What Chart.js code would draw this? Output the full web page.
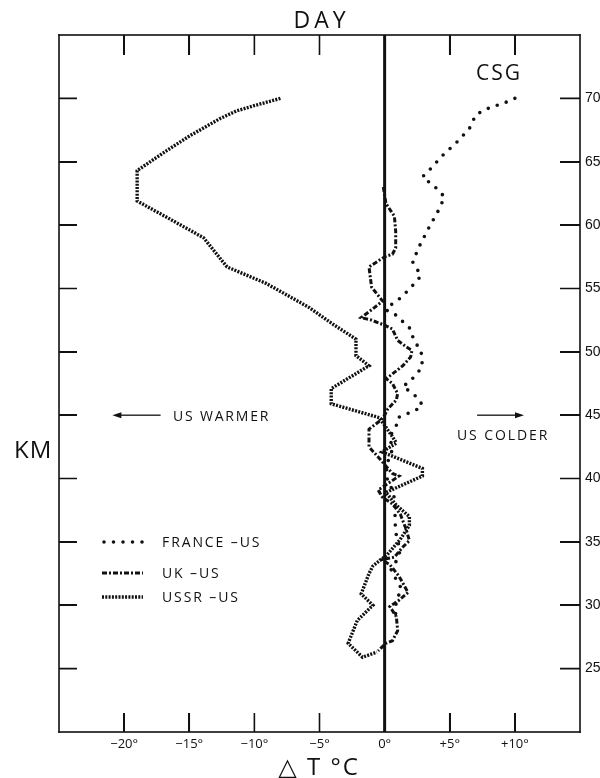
<!DOCTYPE html>
<html><head><meta charset="utf-8">
<script src="https://cdn.jsdelivr.net/npm/chart.js@4"></script>
<style>
body{margin:0;background:#fff}
#wrap{position:relative;width:600px;height:778px}
.t{position:absolute;font-family:'Open Sans',sans-serif;color:#111;white-space:nowrap;line-height:1}
.tk{position:absolute;background:#111}
</style></head>
<body>
<div id="wrap">
<canvas id="c" width="600" height="778"></canvas>
<div class="t" style="left:319.5px;top:8px;font-size:23px;letter-spacing:4px;padding-left:4px;transform:translateX(-50%)">DAY</div>
<div class="t" style="left:498px;top:62px;font-size:21px;letter-spacing:2px;padding-left:2px;transform:translateX(-50%)">CSG</div>
<div class="t" style="left:14px;top:437px;font-size:24px;letter-spacing:1px">KM</div>
<div class="t" style="left:318px;top:754px;font-size:24px;letter-spacing:2px;padding-left:2px;transform:translateX(-50%)"><span style="font-family:'DejaVu Sans'">△</span> T °C</div>
<div class="t" style="left:173px;top:408.6px;font-size:14px;letter-spacing:1.8px">US WARMER</div>
<div class="t" style="left:457px;top:427.6px;font-size:14px;letter-spacing:1.9px">US COLDER</div>
<div class="t" style="left:162px;top:534.6px;font-size:14px;letter-spacing:1.9px">FRANCE –US</div>
<div class="t" style="left:162px;top:565.6px;font-size:14px;letter-spacing:1.9px">UK –US</div>
<div class="t" style="left:162px;top:589.6px;font-size:14px;letter-spacing:1.9px">USSR –US</div>
</div>
<script>
// ---- data ----
const tempTicks = [-20, -15, -10, -5, 0, 5, 10];
const tempTickLabels = ['−20°', '−15°', '−10°', '−5°', '0°', '+5°', '+10°'];
const kmTicks = [25, 30, 35, 40, 45, 50, 55, 60, 65, 70];

const franceT  = [10, 9.0, 8.4, 7.7, 7.0, 6.5, 5.5, 4.45, 3.4, 2.9, 3.4, 4.1, 4.6, 4.1, 3.4, 2.7, 2.15, 2.8, 2.3, 1.3, 0.6, 0.1, 0.75, 1.9, 2.3, 2.8, 2.9, 1.9, 1.4, 2.5, 2.9, 2.4, 1.0, 0.9, 0.4, 0.6, 0.2, 0.1, 0.5, 0.8, 0.8, 0.8, 0.9, 1.2, 0.9, 0.5, 0.9, 1.3, 1.0, 0.8, 0.9];
const franceKm = [70, 69.55, 69.4, 69.1, 68.7, 67.6, 66.5, 65.5, 64.3, 63.8, 63.4, 62.8, 62.2, 61.1, 59.8, 58.4, 57.1, 56.0, 55.4, 54.3, 53.8, 53.3, 53.0, 51.9, 50.8, 50.1, 48.8, 47.6, 47.3, 46.4, 45.8, 45.4, 44.8, 44.2, 43.3, 42.3, 41.2, 40.2, 39.3, 38.3, 37.3, 36.5, 35.5, 34.3, 33.5, 32.8, 32.0, 31.3, 30.6, 29.8, 28.8];

const ukT  = [-0.1, 0.1, 0.75, 0.85, 0.85, 0.6, 0, -1.2, -1.0, -0.15, -0.9, -1.8, -1.0, 0, 0.6, 1.0, 1.65, 2.1, 2.0, 1.4, 0.4, 0.1, 0.6, 1.0, 0.9, 0.25, 0, -0.3, -1.2, -1.2, -0.5, 0.6, 1.1, 0.1, -0.5, -0.15, 0.6, 1.2, 1.65, 1.9, 1.4, 0.75, -0.2, 0.4, 1.1, 1.8, 1.1, 0.4, 0.9, 1.0, 0.6, 0.1, -0.5];
const ukKm = [63.0, 61.7, 60.7, 59.5, 58.2, 57.7, 57.5, 56.7, 55.1, 54.0, 53.4, 52.7, 52.5, 52.1, 51.8, 50.9, 50.4, 50.1, 49.6, 48.9, 48.1, 47.9, 47.5, 46.7, 46.2, 45.5, 45.0, 44.6, 43.9, 42.5, 41.7, 40.4, 40.2, 39.5, 39.1, 38.5, 38.0, 37.2, 36.0, 35.1, 34.6, 33.8, 33.6, 33.2, 32.3, 31.0, 30.4, 29.9, 29.1, 28.0, 27.2, 27.0, 26.4];

const ussrT  = [-8.0, -10.1, -11.4, -12.65, -14.95, -16.7, -19.0, -19.0, -16.7, -13.9, -12.1, -9.1, -5.8, -4.0, -2.2, -2.2, -1.2, -4.1, -4.1, -0.4, 0.6, 0.9, -0.2, 2.9, 2.9, 0.1, 0.9, 1.9, 1.9, 1.2, 0.2, -0.9, -1.2, -1.8, -0.9, -2.1, -2.8, -1.7, -0.6];
const ussrKm = [70, 69.4, 69.0, 68.4, 67.05, 65.9, 64.3, 61.9, 60.6, 59.0, 56.7, 55.4, 53.5, 52.2, 51.0, 49.7, 48.9, 47.1, 45.9, 44.8, 43.3, 42.8, 42.1, 40.8, 40.2, 38.9, 37.9, 37.0, 36.3, 35.2, 34.0, 33.1, 32.5, 30.9, 30.0, 28.8, 27.0, 25.9, 26.3];

const zeroT = [0, 0];
const zeroKm = [20, 75];

const X_MIN = -25, X_MAX = 15, Y_MIN = 20, Y_MAX = 75;

const pts = (xs, ys) => xs.map((x, i) => ({x: x, y: ys[i]}));

// inward axis tick marks, built from the tick arrays (segments separated by gaps)
const xTickSegs = (y0, y1) => tempTicks.filter(v => v !== 0)
  .flatMap(v => [{x: v, y: y0}, {x: v, y: y1}, {x: v, y: null}]);
const yTickSegs = (x0, x1) => kmTicks
  .flatMap(v => [{x: x0, y: v}, {x: x1, y: v}, {x: x1, y: null}]);

const styles = {
  france: {borderWidth: 3.6, borderDash: [0, 9.5], borderCapStyle: 'round'},
  uk: {borderWidth: 3, borderDash: [5, 2, 2, 2], borderCapStyle: 'butt'},
  ussr: {borderWidth: 3.4, borderDash: [2, 1.3], borderCapStyle: 'butt'}
};

const framePlugin = {
  id: 'frame',
  afterDraw(chart) {
    const ctx = chart.ctx;
    const a = chart.chartArea;
    const sx = chart.scales.x, sy = chart.scales.y;
    ctx.save();
    ctx.setLineDash([]);
    ctx.fillStyle = '#111';
    const w = 1.6;
    ctx.fillRect(a.left - w / 2, a.top - w / 2, a.right - a.left + w, w);
    ctx.fillRect(a.left - w / 2, a.bottom - w / 2, a.right - a.left + w, w);
    ctx.fillRect(a.left - w / 2, a.top - w / 2, w, a.bottom - a.top + w);
    ctx.fillRect(a.right - w / 2, a.top - w / 2, w, a.bottom - a.top + w);
    const ay = sy.getPixelForValue(45);
    const arrow = (x1, x2) => {
      const p1 = sx.getPixelForValue(x1), p2 = sx.getPixelForValue(x2);
      const dir = Math.sign(p2 - p1);
      ctx.fillRect(Math.min(p1, p2 - dir * 6), ay - 0.65, Math.abs(p2 - dir * 6 - p1), 1.3);
      ctx.beginPath(); ctx.moveTo(p2, ay); ctx.lineTo(p2 - dir * 9, ay - 3); ctx.lineTo(p2 - dir * 9, ay + 3); ctx.closePath(); ctx.fill();
    };
    arrow(-17.2, -20.9);
    arrow(7.1, 10.7);
    ctx.strokeStyle = '#111';
    [['france', 542], ['uk', 573], ['ussr', 597]].forEach(([k, py]) => {
      const s = styles[k];
      ctx.lineWidth = s.borderWidth;
      ctx.setLineDash(s.borderDash);
      ctx.lineCap = s.borderCapStyle;
      ctx.beginPath(); ctx.moveTo(k === 'france' ? 104 : 102, py); ctx.lineTo(143, py); ctx.stroke();
    });
    ctx.restore();
  }
};

const tickDs = data => ({data: data, showLine: true, spanGaps: false, borderColor: '#111', borderWidth: 1.6, pointRadius: 0, tension: 0});

const chart = new Chart(document.getElementById('c'), {
  type: 'scatter',
  data: {
    datasets: [
      tickDs(xTickSegs(Y_MIN, Y_MIN + 1.5)),
      tickDs(xTickSegs(Y_MAX, Y_MAX - 1.58)),
      tickDs(yTickSegs(X_MIN, X_MIN + 1.38)),
      tickDs(yTickSegs(X_MAX, X_MAX - 1.53)),
      {label: 'zero', data: pts(zeroT, zeroKm), showLine: true, borderColor: '#111', borderWidth: 3, pointRadius: 0},
      Object.assign({label: 'FRANCE –US', data: pts(franceT, franceKm), showLine: true, borderColor: '#111', pointRadius: 0, tension: 0}, styles.france),
      Object.assign({label: 'UK –US', data: pts(ukT, ukKm), showLine: true, borderColor: '#111', pointRadius: 0, tension: 0}, styles.uk),
      Object.assign({label: 'USSR –US', data: pts(ussrT, ussrKm), showLine: true, borderColor: '#111', pointRadius: 0, tension: 0}, styles.ussr)
    ]
  },
  options: {
    responsive: false,
    animation: false,
    devicePixelRatio: 1,
    layout: {padding: {left: 59, right: 0, top: 35, bottom: 0}},
    plugins: {legend: {display: false}, title: {display: false}, tooltip: {enabled: false}},
    scales: {
      x: {
        type: 'linear', position: 'bottom', min: X_MIN, max: X_MAX,
        grid: {display: false, drawTicks: false}, border: {display: false},
        afterBuildTicks: s => { s.ticks = tempTicks.map(v => ({value: v})); },
        afterFit: s => { s.height = 46; },
        ticks: {
          padding: 4, color: '#111', maxRotation: 0, autoSkip: false,
          font: {family: "'Open Sans', sans-serif", size: 13},
          callback: v => { const i = tempTicks.indexOf(v); return i >= 0 ? tempTickLabels[i] : ''; }
        }
      },
      y: {
        type: 'linear', position: 'right', min: Y_MIN, max: Y_MAX,
        grid: {display: false, drawTicks: false}, border: {display: false},
        afterBuildTicks: s => { s.ticks = kmTicks.map(v => ({value: v})); },
        afterFit: s => { s.width = 20; },
        ticks: {
          padding: 5, color: '#111', autoSkip: false,
          font: {family: "'Liberation Sans Narrow', 'Liberation Sans', sans-serif", size: 14},
          callback: v => String(v)
        }
      }
    }
  },
  plugins: [framePlugin]
});

// tick marks also placed as page elements, positioned from the chart's own scales
(function () {
  const wrap = document.getElementById('wrap');
  const a = chart.chartArea, sx = chart.scales.x, sy = chart.scales.y;
  const w = 1.6;
  const add = (l, t, wd, ht) => {
    const d = document.createElement('div');
    d.className = 'tk';
    d.style.left = l + 'px'; d.style.top = t + 'px';
    d.style.width = wd + 'px'; d.style.height = ht + 'px';
    wrap.appendChild(d);
  };
  tempTicks.forEach(v => {
    if (v === 0) return;
    const px = sx.getPixelForValue(v);
    add(px - w / 2, a.bottom - 19, w, 19);
    add(px - w / 2, a.top, w, 20);
  });
  kmTicks.forEach(v => {
    const py = sy.getPixelForValue(v);
    add(a.left, py - w / 2, 18, w);
    add(a.right - 20, py - w / 2, 20, w);
  });
})();
</script>
</body></html>
